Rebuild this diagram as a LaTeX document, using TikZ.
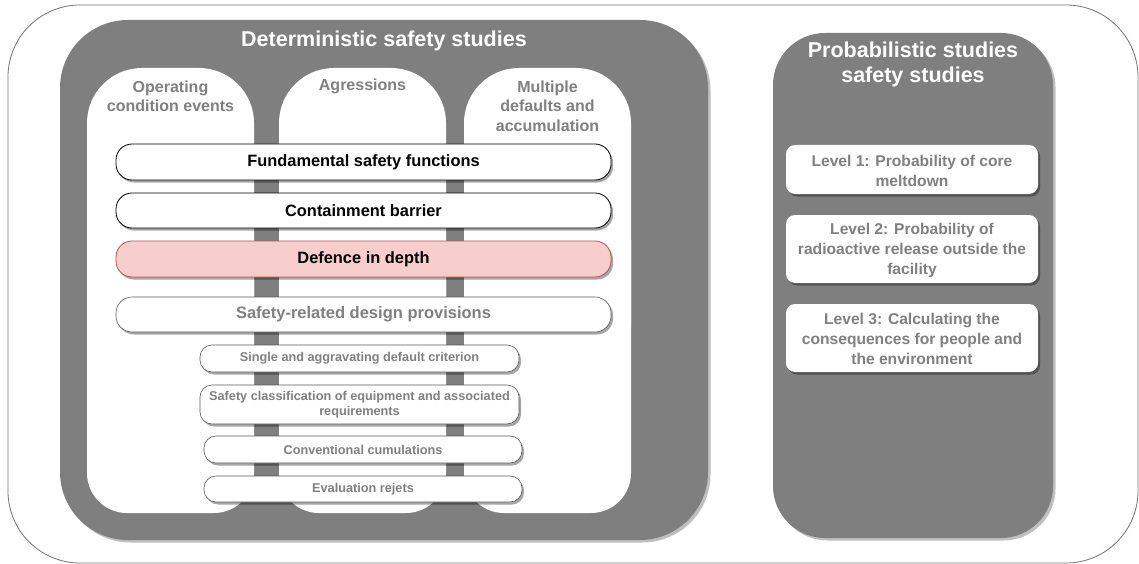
\documentclass[tikz,border=0pt]{standalone}
\usepackage{fontspec}
\setmainfont{Liberation Sans}
\usetikzlibrary{shadows}
\definecolor{dk}{HTML}{7F7F7F}
\definecolor{tg}{HTML}{808080}
\definecolor{bd}{HTML}{5A5A5A}
\definecolor{pinkf}{HTML}{F8CECC}
\definecolor{pinkd}{HTML}{B85450}
\begin{document}
\begin{tikzpicture}[x=1pt,y=-1pt,
  shad/.style={drop shadow={shadow xshift=2pt,shadow yshift=-2.5pt,opacity=0.35,fill=black}},
  lshad/.style={drop shadow={shadow xshift=2.5pt,shadow yshift=-2.5pt,opacity=0.25,fill=black}},
  bigbox/.style={fill=dk, lshad},
  colbox/.style={fill=white},
  band/.style={draw=black, line width=0.8pt, fill=white, rounded corners=16, shad},
  sband/.style={draw=bd, line width=0.6pt, fill=white, rounded corners=12, shad},
  lvl/.style={fill=white, rounded corners=9, shad},
  bandtxt/.style={font=\bfseries\fontsize{16.4}{19}\selectfont, text=black},
  graytxt/.style={font=\bfseries\fontsize{16}{19.5}\selectfont, text=tg, align=center},
  smalltxt/.style={font=\bfseries\fontsize{12.7}{15}\selectfont, text=tg, align=center},
  lvltxt/.style={font=\bfseries\fontsize{15.6}{20}\selectfont, text=tg, align=center},
  title/.style={font=\bfseries\fontsize{21.5}{25}\selectfont, text=white, align=center}
]
\useasboundingbox (0,0) rectangle (1139,564);
% outer frame
\draw[black!55, line width=0.8pt, fill=white, rounded corners=72] (8,5) rectangle (1138,563);

% deterministic box
\path[bigbox, rounded corners=68] (60,20) rectangle (708,540);
\node[title] (dtitle) at (384,41) {Deterministic safety studies};

% columns
\foreach \xa/\xb/\nm in {87/254/c1, 279/446/c2, 464/631/c3}{
  \path[colbox, rounded corners=55] (\xa,68) rectangle (\xb,380);
  \path[colbox, rounded corners=40] (\xa,200) rectangle (\xb,513);
}
\node[graytxt] (c1t) at (170.5,96.5) {Operating\\condition events};
\node[graytxt] (c2t) at (362.5,86) {Agressions};
\node[graytxt] (c3t) at (547.5,106) {Multiple\\defaults and\\accumulation};

% bands
\path[band] (116,144) rectangle (611,180);
\node[bandtxt] (fsf) at (363.5,162) {Fundamental safety functions};
\path[band] (116,193) rectangle (611,228);
\node[bandtxt] (cb) at (363.5,210.5) {Containment barrier};
\path[band, draw=pinkd, fill=pinkf] (116,241) rectangle (611,277);
\node[bandtxt] (did) at (363.5,259) {Defence in depth};
\path[band, draw=bd, line width=0.6pt] (116,297) rectangle (611,332);
\node[graytxt, font=\bfseries\fontsize{16.5}{20}\selectfont] (srd) at (363.5,314.5) {Safety-related design provisions};

\path[sband] (200,345) rectangle (519,372);
\node[smalltxt] (sad) at (359.5,358.5) {Single and aggravating default criterion};
\path[sband] (200,385) rectangle (519,424);
\node[smalltxt, font=\bfseries\fontsize{12.7}{15}\selectfont] (sce) at (359.5,404.5) {Safety classification of equipment and associated\\requirements};
\path[sband] (204,436) rectangle (522,463);
\node[smalltxt] (cc) at (363,449.5) {Conventional cumulations};
\path[sband] (204,476) rectangle (522,502);
\node[smalltxt] (er) at (363,489) {Evaluation rejets};

% probabilistic box
\path[bigbox, rounded corners=52] (773,33) rectangle (1053,538);
\node[title] (ptitle) at (913,64) {Probabilistic studies\\safety studies};

\path[lvl] (786,145) rectangle (1038,194);
\node[lvltxt] (l1) at (912,171) {Level 1: Probability of core\\meltdown};
\path[lvl] (786,215) rectangle (1038,283);
\node[lvltxt] (l2) at (912,250) {Level 2: Probability of\\radioactive release outside the\\facility};
\path[lvl] (786,304) rectangle (1038,372);
\node[lvltxt] (l3) at (912,339) {Level 3: Calculating the\\consequences for people and\\the environment};
\end{tikzpicture}
\end{document}
